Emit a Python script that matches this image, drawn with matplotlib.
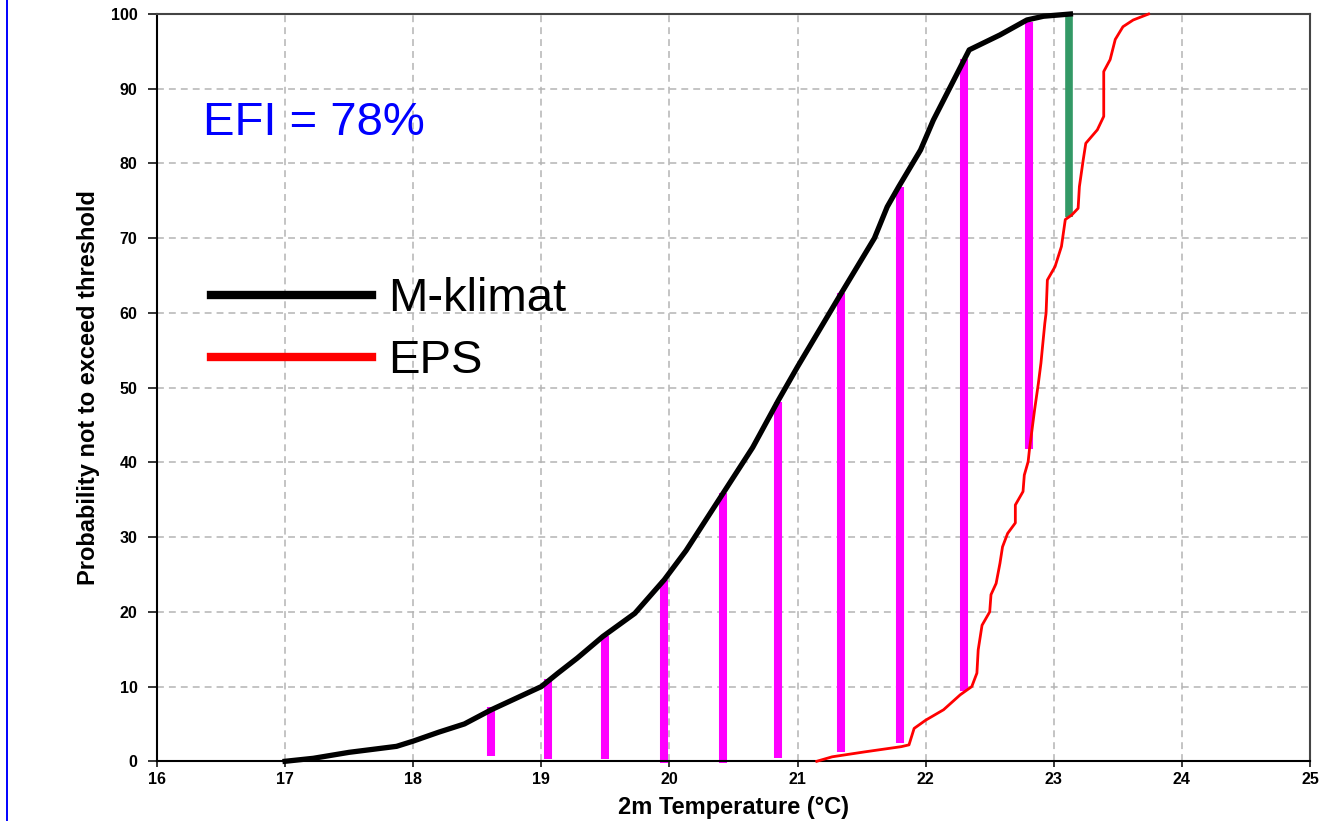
import matplotlib
matplotlib.use("Agg")
import matplotlib.pyplot as plt
from matplotlib.lines import Line2D

# Model-climate CDF of 2m temperature (probability not to exceed, %)
mclim_temp = [17.0, 17.22, 17.5, 17.87, 18.0, 18.2, 18.4, 18.61, 19.0, 19.13,
              19.28, 19.48, 19.73, 19.96, 20.13, 20.42, 20.65, 20.85, 21.0, 21.34,
              21.6, 21.7, 21.79, 21.96, 22.06, 22.34, 22.58, 22.79, 22.92, 23.13]
mclim_prob = [0, 0.4, 1.2, 2.0, 2.7, 3.9, 5.0, 6.9, 10.0, 11.8,
              13.8, 16.7, 19.8, 24.3, 28.2, 35.9, 42.0, 48.3, 52.8, 62.6,
              70.0, 74.2, 76.9, 81.8, 85.8, 95.2, 97.2, 99.2, 99.7, 100]

# Ensemble forecast CDF
eps_temp = [21.15, 21.27, 21.52, 21.81, 21.87, 21.91, 22.0, 22.14, 22.27, 22.36,
            22.40, 22.41, 22.44, 22.50, 22.51, 22.55, 22.58, 22.60, 22.64, 22.70,
            22.70, 22.76, 22.77, 22.80, 22.81, 22.85, 22.88, 22.90, 22.91, 22.93,
            22.94, 22.95, 23.01, 23.06, 23.09, 23.14, 23.19, 23.20, 23.23, 23.25,
            23.34, 23.39, 23.39, 23.44, 23.48, 23.54, 23.62, 23.74]
eps_prob = [0, 0.6, 1.25, 1.96, 2.2, 4.4, 5.5, 6.9, 8.9, 10.0,
            11.8, 14.9, 18.2, 20.0, 22.3, 23.8, 26.5, 28.7, 30.5, 31.9,
            34.3, 36.1, 38.3, 40.1, 41.7, 47.0, 50.6, 53.3, 55.1, 58.6,
            60.0, 64.4, 66.2, 68.9, 72.5, 73.1, 74.0, 76.9, 80.5, 82.7,
            84.5, 86.3, 92.3, 93.9, 96.6, 98.3, 99.2, 100]

# Vertical distances between the two CDFs
gap_temp = [18.61, 19.05, 19.50, 19.96, 20.42, 20.85, 21.34, 21.80, 22.30, 22.81]
gap_top = [7.3, 11.05, 16.8, 24.3, 35.9, 48.1, 62.6, 76.9, 94.0, 98.9]
gap_bottom = [0.7, 0.27, 0.27, -0.2, -0.2, 0.5, 1.25, 2.4, 9.4, 41.8]

last_temp = [23.12]
last_top = [100.0]
last_bottom = [72.9]

x_ticks = list(range(16, 26))
y_ticks = list(range(0, 101, 10))

fig = plt.figure(figsize=(13.44, 8.24), dpi=100)
ax = fig.add_axes([0.1168, 0.0761, 0.8579, 0.9069])

ax.vlines(gap_temp, gap_bottom, gap_top, colors="#ff00ff", linewidth=5.8,
          zorder=2, clip_on=False)
ax.vlines(last_temp, last_bottom, last_top, colors="#339966", linewidth=5.5,
          zorder=2, clip_on=False)

ax.plot(mclim_temp, mclim_prob, color="black", linewidth=3.8,
        solid_joinstyle="round", zorder=3, label="M-klimat", clip_on=False)
ax.plot(eps_temp, eps_prob, color="#ff0000", linewidth=2.0, zorder=3,
        label="EPS", clip_on=False)

ax.set_xlim(16, 25)
ax.set_ylim(0, 100)
ax.set_xticks(x_ticks)
ax.set_yticks(y_ticks)

tick_font = dict(family=["Liberation Sans", "DejaVu Sans"], weight="bold", size=11.5)
ax.set_xticklabels([str(t) for t in x_ticks], fontdict=tick_font)
ax.set_yticklabels([str(t) for t in y_ticks], fontdict=tick_font)
ax.tick_params(axis="x", length=4, width=1.1, pad=3.4, color="black")
ax.tick_params(axis="y", length=6.5, width=1.1, pad=7.6, color="black")

ax.set_axisbelow(True)
ax.grid(True, linestyle=(0, (4.5, 3.3)), color="#b4b4b4", linewidth=1.1)

for side in ("left", "bottom"):
    ax.spines[side].set_color("black")
    ax.spines[side].set_linewidth(1.5)
for side in ("top", "right"):
    ax.spines[side].set_color("#444444")
    ax.spines[side].set_linewidth(1.5)

label_font = dict(family=["Liberation Sans", "DejaVu Sans"], weight="bold", size=17)
ax.set_xlabel("2m Temperature (°C)", fontdict=label_font, labelpad=7)
ax.set_ylabel("Probability not to exceed threshold", fontdict=label_font, labelpad=7.7)

ax.text(16.36, 83.8, "EFI = 78%", color="#0000ff", fontsize=34,
        family=["Liberation Sans", "DejaVu Sans"], va="baseline", ha="left")

leg = ax.legend(loc="upper left", bbox_to_anchor=(0.0466, 0.648), frameon=False,
                prop=dict(family=["Liberation Sans", "DejaVu Sans"], size=34),
                handlelength=3.41, handletextpad=0.345, labelspacing=0.39,
                borderpad=0, borderaxespad=0)
for line in leg.get_lines():
    line.set_linewidth(6)

# Thin blue rule along the left edge of the figure
fig.add_artist(Line2D([7.3 / 1344, 7.3 / 1344], [0.005, 1.0], color="#0000ff",
                      linewidth=1.4, transform=fig.transFigure))

fig.savefig("out.png", dpi=100)
